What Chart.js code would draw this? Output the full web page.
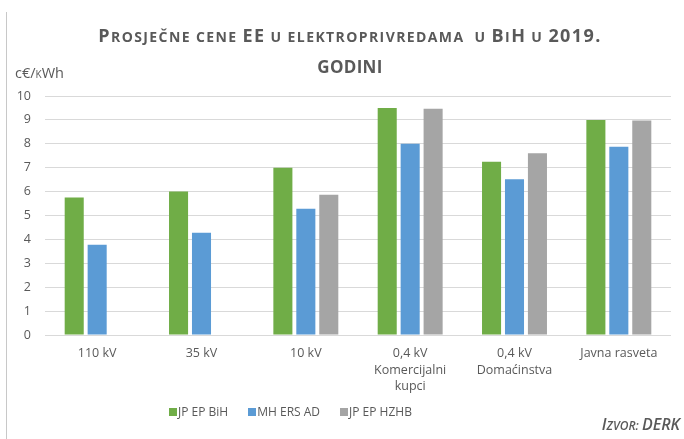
<!DOCTYPE html>
<html>
<head>
<meta charset="utf-8">
<script src="https://cdn.jsdelivr.net/npm/chart.js@4.4.0/dist/chart.umd.min.js"></script>
<style>
  html, body { margin: 0; padding: 0; background: #fff; }
  #wrap { position: relative; width: 684px; height: 439px; font-family: "Open Sans", sans-serif; color: #595959; }
  #frame { position: absolute; left: 6px; top: 12px; width: 1px; height: 427px; background: #c8c8c8; }
  canvas { position: absolute; left: 0; top: 0; }
  #title { position: absolute; left: 8px; width: 684px; top: 20px; text-align: center; font-weight: 700; line-height: 30px; white-space: nowrap; letter-spacing: 1.4px; }
  #title .b { font-size: 18px; }
  #title .s { font-size: 14px; }
  #title .g { font-size: 17px; letter-spacing: 0.3px; }
  #unit { position: absolute; left: 15px; top: 63px; font-size: 14.5px; }
  #unit .k { font-variant: small-caps; }
  #legend { position: absolute; top: 403px; left: 169px; font-size: 12px; display: flex; gap: 0; white-space: nowrap; }
  .item { display: flex; align-items: center; margin-right: 20px; }
  .box { width: 8px; height: 8px; margin-right: 1px; }
  #source { position: absolute; right: 4px; top: 413px; font-style: italic; font-weight: 600; white-space: nowrap; }
  #source .b { font-size: 16px; }
  #source .s { font-size: 12px; }
</style>
</head>
<body>
<div id="wrap">
  <div id="frame"></div>
  <canvas id="c" width="684" height="439"></canvas>
  <div id="title"><span class="b">P</span><span class="s">ROSJEČNE CENE </span><span class="b">EE</span><span class="s"> U ELEKTROPRIVREDAMA&nbsp; U </span><span class="b">B</span><span class="s">I</span><span class="b">H</span><span class="s"> U </span><span class="b">2019.</span><br><span class="g">GODINI</span></div>
  <div id="unit">c€/<span class="k">k</span>Wh</div>
  <div id="legend"></div>
  <div id="source"><span class="b">I</span><span class="s">ZVOR: </span><span class="b">DERK</span></div>
</div>
<script>
const categories = [
  ["110 kV"],
  ["35 kV"],
  ["10 kV"],
  ["0,4 kV", "Komercijalni", "kupci"],
  ["0,4 kV", "Domaćinstva"],
  ["Javna rasveta"]
];
const seriesNames = ["JP EP BiH", "MH ERS AD", "JP EP HZHB"];
const jpEpBih = [5.75, 6.0, 7.0, 9.5, 7.25, 9.0];
const mhErsAd = [3.78, 4.28, 5.28, 8.0, 6.52, 7.88];
const jpEpHzhb = [null, null, 5.87, 9.47, 7.6, 8.97];
const yTicks = [0, 1, 2, 3, 4, 5, 6, 7, 8, 9, 10];
const colors = ["#70AD47", "#5B9BD5", "#A5A5A5"];

const seriesValues = [jpEpBih, mhErsAd, jpEpHzhb];
const datasets = seriesNames.map((n, i) => ({
  label: n,
  data: seriesValues[i],
  backgroundColor: colors[i],
  borderWidth: 0,
  categoryPercentage: 0.66,
  barPercentage: 0.83
}));

const chart = new Chart(document.getElementById('c'), {
  type: 'bar',
  data: { labels: categories, datasets },
  options: {
    responsive: false,
    animation: false,
    layout: { padding: { left: 10, right: 13, top: 96, bottom: 0 } },
    plugins: { legend: { display: false }, title: { display: false }, tooltip: { enabled: false } },
    scales: {
      x: {
        grid: { display: false },
        border: { display: false },
        ticks: { color: '#595959', font: { family: 'Open Sans', size: 12.5, lineHeight: 1.33 }, padding: 2, maxRotation: 0, autoSkip: false },
        afterFit: (s) => { s.height = 104; }
      },
      y: {
        min: 0, max: 10,
        afterBuildTicks: (s) => { s.ticks = yTicks.map(v => ({ value: v })); },
        grid: { color: '#D9D9D9', lineWidth: 1, drawTicks: false },
        border: { display: false },
        ticks: { color: '#595959', font: { family: 'Open Sans', size: 12.5 }, padding: 14 },
        afterFit: (s) => { s.width = 35; }
      }
    }
  }
});

const leg = document.getElementById('legend');
seriesNames.forEach((n, i) => {
  const it = document.createElement('div');
  it.className = 'item';
  const b = document.createElement('div');
  b.className = 'box';
  b.style.background = colors[i];
  const t = document.createElement('span');
  t.textContent = n;
  it.appendChild(b); it.appendChild(t);
  leg.appendChild(it);
});
</script>
</body>
</html>
